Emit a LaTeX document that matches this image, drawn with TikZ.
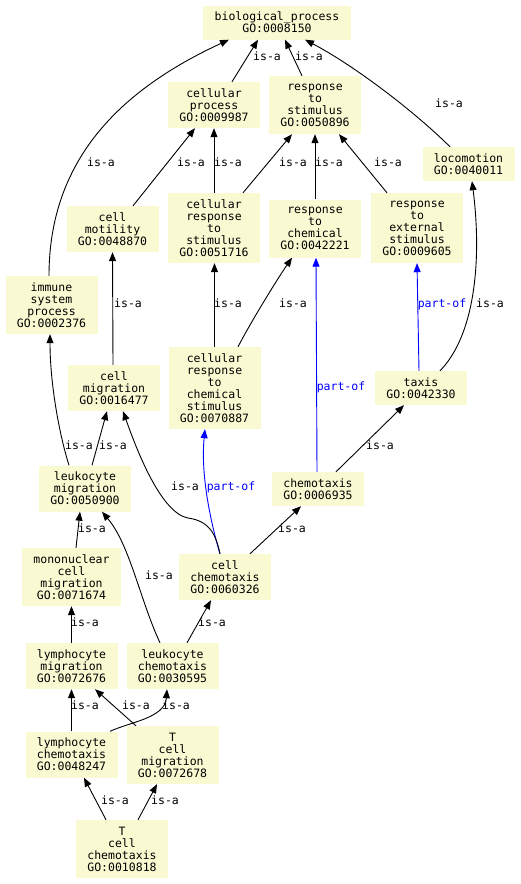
\documentclass[tikz,border=0pt]{standalone}
\usepackage{fontspec}
\setmonofont{DejaVu Sans Mono}
\usetikzlibrary{arrows.meta}
\definecolor{gobg}{RGB}{250,250,210}
\begin{document}
\begin{tikzpicture}[x=1pt,y=-1pt,
  term/.style={fill=gobg, draw=none, align=center, inner xsep=0pt, inner ysep=0pt, minimum width=92pt, font=\ttfamily\fontsize{11.5}{12}\selectfont},
  isa/.style={draw=black, line width=0.9pt, -{Triangle[length=9pt,width=7pt]}},
  partof/.style={draw=blue, line width=0.9pt, -{Triangle[length=9pt,width=7pt]}},
  lbl/.style={font=\ttfamily\fontsize{11.5}{12}\selectfont, inner sep=0pt, text height=8pt, text depth=2pt},
  lblb/.style={lbl, text=blue}]
\fill[white] (0,0) rectangle (520,884);
\useasboundingbox (0,0) rectangle (520,884);

% terms
\node[term, minimum width=148pt, minimum height=34pt] (bp) at (277,22.5) {biological\_process\\GO:0008150};
\node[term, minimum height=46pt] (cp) at (214,105) {cellular\\process\\GO:0009987};
\node[term, minimum height=58pt] (rs) at (315,105) {response\\to\\stimulus\\GO:0050896};
\node[term, minimum height=34pt] (loc) at (468.5,164) {locomotion\\GO:0040011};
\node[term, minimum height=46pt] (cm) at (112.5,229) {cell\\motility\\GO:0048870};
\node[term, minimum height=70pt] (crs) at (214,228) {cellular\\response\\to\\stimulus\\GO:0051716};
\node[term, minimum height=58pt] (rc) at (315,228.5) {response\\to\\chemical\\GO:0042221};
\node[term, minimum height=70pt] (res) at (417,228) {response\\to\\external\\stimulus\\GO:0009605};
\node[term, minimum height=58pt] (isp) at (51.5,305) {immune\\system\\process\\GO:0002376};
\node[term, minimum height=46pt] (cmig) at (114,388) {cell\\migration\\GO:0016477};
\node[term, minimum height=82pt] (crcs) at (214.5,388) {cellular\\response\\to\\chemical\\stimulus\\GO:0070887};
\node[term, minimum height=34pt] (taxis) at (421,388) {taxis\\GO:0042330};
\node[term, minimum height=46pt] (lm) at (85,488.5) {leukocyte\\migration\\GO:0050900};
\node[term, minimum height=34pt] (chem) at (318,489) {chemotaxis\\GO:0006935};
\node[term, minimum width=99pt, minimum height=58pt] (mcm) at (71.5,577) {mononuclear\\cell\\migration\\GO:0071674};
\node[term, minimum height=46pt] (cc) at (225,577) {cell\\chemotaxis\\GO:0060326};
\node[term, minimum height=46pt] (lymm) at (71.5,666) {lymphocyte\\migration\\GO:0072676};
\node[term, minimum height=46pt] (lc) at (172.5,666) {leukocyte\\chemotaxis\\GO:0030595};
\node[term, minimum height=46pt] (lymc) at (71.5,754.5) {lymphocyte\\chemotaxis\\GO:0048247};
\node[term, minimum height=58pt] (tcm) at (172.5,755) {T\\cell\\migration\\GO:0072678};
\node[term, minimum height=58pt] (tcc) at (122,849) {T\\cell\\chemotaxis\\GO:0010818};

% edges
\draw[isa] ([xshift=18]cp.north) -- ([xshift=-19]bp.south);
\draw[isa] ([xshift=-13]rs.north) -- ([xshift=8]bp.south);
\draw[isa] ([xshift=-2.5]isp.north) .. controls (49,160) and (120,90) .. ([xshift=-48]bp.south);
\draw[isa] ([xshift=-18.5]loc.north) .. controls (415,112) and (355,66) .. ([xshift=28]bp.south);
\draw[isa] ([xshift=20.5]cm.north) -- ([xshift=-19]cp.south);
\draw[isa] (crs.north) -- (cp.south);
\draw[isa] ([xshift=29]crs.north) -- ([xshift=-23]rs.south);
\draw[isa] (rc.north) -- (rs.south);
\draw[isa] ([xshift=-30]res.north) -- ([xshift=24]rs.south);
\draw[isa] ([xshift=-1]cmig.north) -- (cm.south);
\draw[isa] (crcs.north) -- ([xshift=0.5]crs.south);
\draw[isa] ([xshift=23.5]crcs.north) .. controls (252,320) and (278,278) .. ([xshift=-23]rc.south);
\draw[partof] ([xshift=-1]chem.north) -- ([xshift=1]rc.south);
\draw[partof] ([xshift=-2]taxis.north) -- (res.south);
\draw[isa] ([xshift=19]taxis.north) .. controls (475,335) and (482,260) .. ([xshift=3.5]loc.south);
\draw[isa] ([xshift=18]chem.north) -- ([xshift=-17]taxis.south);
\draw[isa] ([xshift=-16]lm.north) .. controls (58,430) and (50,380) .. ([xshift=-1.5]isp.south);
\draw[isa] ([xshift=7]lm.north) -- ([xshift=-7]cmig.south);
\draw[partof] ([xshift=-5]cc.north) .. controls (214,534) and (200,480) .. ([xshift=-9.5]crcs.south);
\draw[isa] ([xshift=-5]cc.north) .. controls (216,535) and (210,521) .. (188,518) .. controls (160,513) and (135,445) .. ([xshift=9]cmig.south);
\draw[isa] ([xshift=25]cc.north) -- ([xshift=-17]chem.south);
\draw[isa] ([xshift=4.5]mcm.north) -- ([xshift=-5]lm.south);
\draw[isa] ([xshift=-12.5]lc.north) .. controls (140,600) and (130,545) .. ([xshift=17]lm.south);
\draw[isa] ([xshift=14.5]lc.north) -- ([xshift=-14]cc.south);
\draw[isa] (lymm.north) -- (mcm.south);
\draw[isa] (lymc.north) -- (lymm.south);
\draw[isa] ([xshift=38.5]lymc.north) .. controls (130,722) and (165,718) .. ([xshift=-5.5]lc.south);
\draw[isa] ([xshift=-36.5]tcm.north) -- ([xshift=23.5]lymm.south);
\draw[isa] ([xshift=-16]tcc.north) -- ([xshift=12.5]lymc.south);
\draw[isa] ([xshift=16]tcc.north) -- ([xshift=-15.5]tcm.south);

% labels
\node[lbl] (l1) at (267,57) {is-a};
\node[lbl] (l2) at (309,57) {is-a};
\node[lbl] (l3) at (101,163) {is-a};
\node[lbl] (l4) at (449,104) {is-a};
\node[lbl] (l5) at (191,163) {is-a};
\node[lbl] (l6) at (228,163) {is-a};
\node[lbl] (l7) at (293,163) {is-a};
\node[lbl] (l8) at (329,163) {is-a};
\node[lbl] (l9) at (388,163) {is-a};
\node[lbl] (l10) at (128,304) {is-a};
\node[lbl] (l11) at (228,304) {is-a};
\node[lbl] (l12) at (293,304) {is-a};
\node[lblb] (l13) at (341,387) {part-of};
\node[lblb] (l14) at (442,304) {part-of};
\node[lbl] (l15) at (490,304) {is-a};
\node[lbl] (l16) at (380,446) {is-a};
\node[lbl] (l17) at (79,446) {is-a};
\node[lbl] (l18) at (113,446) {is-a};
\node[lbl] (l19) at (185,487) {is-a};
\node[lblb] (l20) at (231,487) {part-of};
\node[lbl] (l21) at (292,529) {is-a};
\node[lbl] (l22) at (92,529) {is-a};
\node[lbl] (l23) at (159,576) {is-a};
\node[lbl] (l24) at (212,623) {is-a};
\node[lbl] (l25) at (85,623) {is-a};
\node[lbl] (l26) at (85,706) {is-a};
\node[lbl] (l27) at (176,706) {is-a};
\node[lbl] (l28) at (136,706) {is-a};
\node[lbl] (l29) at (115,801) {is-a};
\node[lbl] (l30) at (165,801) {is-a};
\end{tikzpicture}
\end{document}
